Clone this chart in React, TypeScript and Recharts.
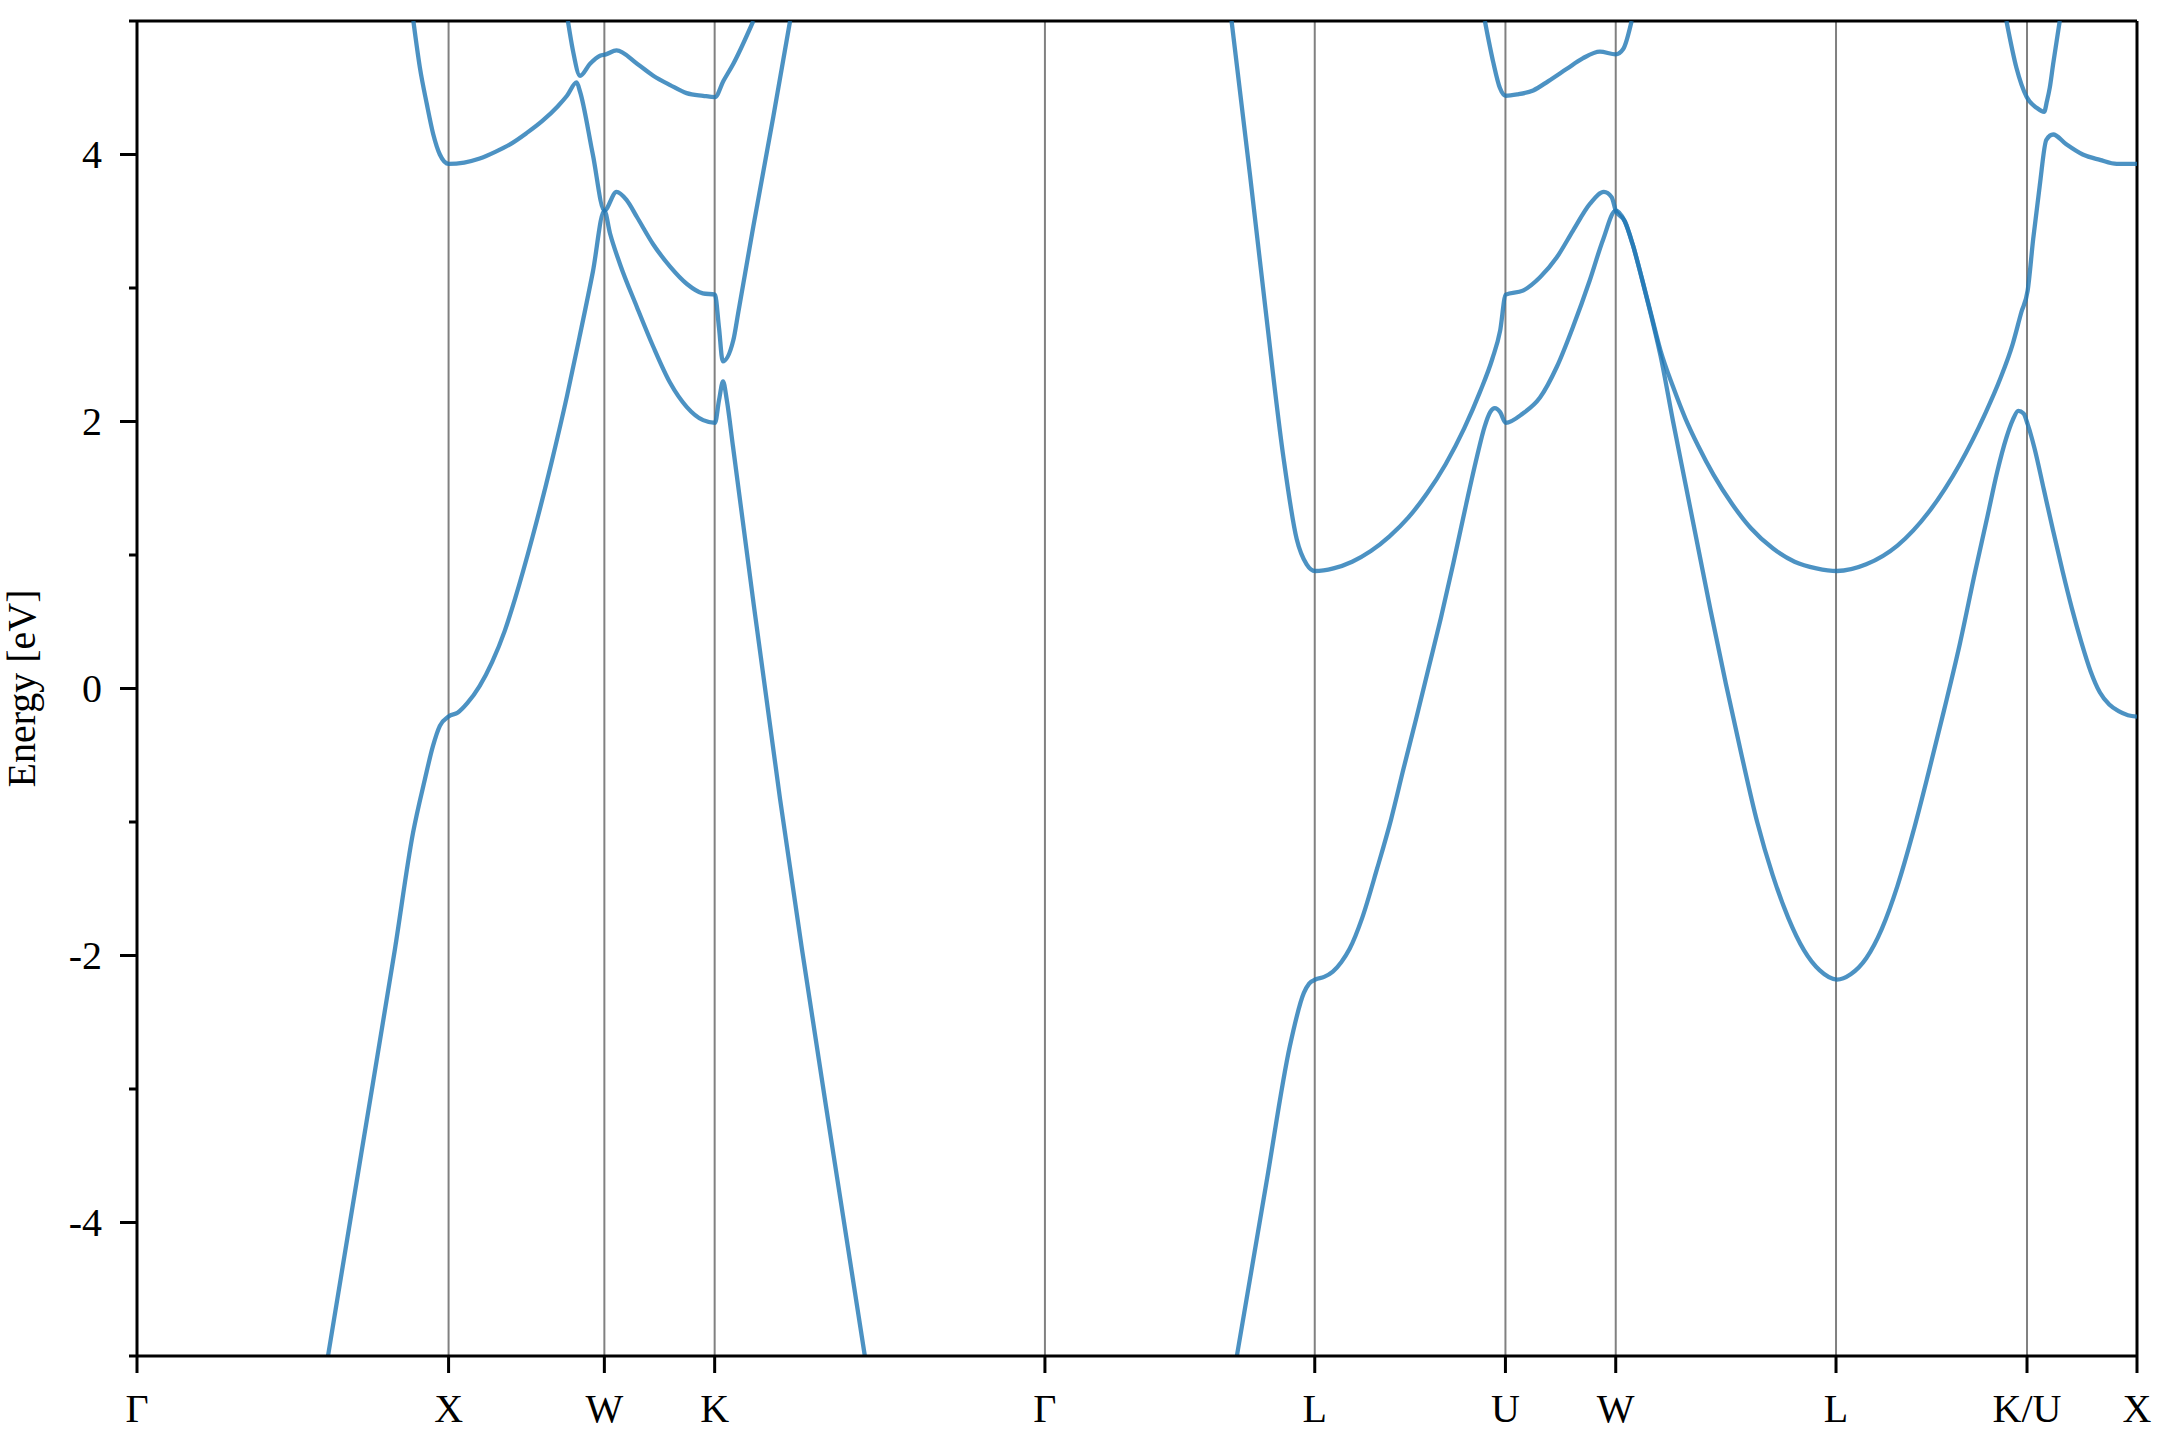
import React from "react";
import { LineChart, Line, XAxis, YAxis, ReferenceLine, Label } from "recharts";

// high-symmetry points along the path (x positions) and their labels
const kTicks = [0, 1, 1.5, 1.854, 2.914, 3.78, 4.392, 4.746, 5.453, 6.066, 6.419];
const kLabels = ["Γ", "X", "W", "K", "Γ", "L", "U", "W", "L", "K/U", "X"];
const energyTicks = [-5, -4, -3, -2, -1, 0, 1, 2, 3, 4, 5];

// [k, E] pairs, one array per visible piece of a band
const band1a = [
  [0.613, -5.0], [0.72, -3.48], [0.828, -1.95], [0.886, -1.08], [0.924, -0.68],
  [0.95, -0.43], [0.972, -0.28], [1.0, -0.21], [1.03, -0.18], [1.06, -0.11],
  [1.1, 0.02], [1.14, 0.2], [1.18, 0.43], [1.213, 0.67], [1.27, 1.14],
  [1.33, 1.69], [1.38, 2.19], [1.42, 2.63], [1.463, 3.12], [1.5, 3.58],
  [1.518, 3.41], [1.55, 3.18], [1.604, 2.86], [1.657, 2.56], [1.711, 2.29],
  [1.764, 2.11], [1.817, 2.01], [1.855, 1.99], [1.868, 2.16], [1.881, 2.3],
  [1.893, 2.16], [1.913, 1.81], [1.977, 0.67], [2.064, -0.83], [2.134, -1.95],
  [2.236, -3.5], [2.336, -5.0],
];
const band1b = [
  [3.53, -5.0], [3.625, -3.7], [3.7, -2.68], [3.745, -2.28], [3.762, -2.21],
  [3.782, -2.18], [3.81, -2.16], [3.838, -2.12], [3.865, -2.05], [3.892, -1.95],
  [3.932, -1.72], [3.98, -1.35], [4.025, -0.98], [4.065, -0.6], [4.105, -0.23],
  [4.145, 0.15], [4.185, 0.53], [4.225, 0.94], [4.265, 1.37], [4.3, 1.73],
  [4.325, 1.96], [4.343, 2.07], [4.358, 2.1], [4.375, 2.07], [4.393, 1.99],
  [4.448, 2.06], [4.503, 2.18], [4.557, 2.41], [4.609, 2.71], [4.663, 3.06],
  [4.705, 3.36], [4.746, 3.58], [4.775, 3.5], [4.8, 3.33], [4.83, 3.07],
  [4.86, 2.79], [4.89, 2.49], [4.93, 2.0], [4.97, 1.53], [5.01, 1.06],
  [5.05, 0.59], [5.1, 0.03], [5.15, -0.5], [5.2, -1.0], [5.25, -1.4],
  [5.3, -1.72], [5.35, -1.96], [5.4, -2.11], [5.456, -2.18], [5.5, -2.14],
  [5.55, -2.02], [5.6, -1.8], [5.65, -1.48], [5.7, -1.08], [5.75, -0.63],
  [5.8, -0.16], [5.85, 0.33], [5.9, 0.88], [5.94, 1.3], [5.97, 1.62],
  [6.0, 1.88], [6.02, 2.01], [6.038, 2.08], [6.055, 2.06], [6.068, 1.98],
  [6.09, 1.8], [6.12, 1.49], [6.15, 1.18], [6.18, 0.88], [6.21, 0.6],
  [6.24, 0.35], [6.27, 0.13], [6.3, -0.03], [6.33, -0.12], [6.36, -0.17],
  [6.39, -0.2], [6.419, -0.21],
];
const band2a = [
  [0.887, 5.0], [0.908, 4.65], [0.93, 4.38], [0.951, 4.15], [0.972, 4.0],
  [1.0, 3.93], [1.05, 3.94], [1.1, 3.97], [1.15, 4.02], [1.2, 4.08],
  [1.25, 4.16], [1.3, 4.25], [1.35, 4.36], [1.38, 4.44], [1.411, 4.54],
  [1.422, 4.47], [1.463, 4.0], [1.5, 3.58], [1.539, 3.72], [1.571, 3.66],
  [1.605, 3.53], [1.656, 3.33], [1.711, 3.16], [1.765, 3.03], [1.816, 2.96],
  [1.855, 2.95], [1.868, 2.7], [1.88, 2.45], [1.914, 2.61], [1.93, 2.82],
  [1.978, 3.46], [2.042, 4.28], [2.096, 5.0],
];
const band2b = [
  [3.513, 5.0], [3.572, 3.85], [3.625, 2.78], [3.679, 1.74], [3.722, 1.12],
  [3.754, 0.93], [3.781, 0.88], [3.84, 0.9], [3.9, 0.95], [3.96, 1.03],
  [4.02, 1.14], [4.08, 1.28], [4.14, 1.46], [4.2, 1.68], [4.26, 1.95],
  [4.31, 2.22], [4.35, 2.47], [4.375, 2.68], [4.393, 2.95], [4.448, 2.98],
  [4.503, 3.08], [4.557, 3.23], [4.609, 3.43], [4.663, 3.63], [4.708, 3.72],
  [4.733, 3.68], [4.746, 3.58], [4.775, 3.5], [4.8, 3.33], [4.83, 3.07],
  [4.86, 2.8], [4.89, 2.53], [4.93, 2.26], [4.97, 2.02], [5.01, 1.82],
  [5.06, 1.6], [5.12, 1.38], [5.18, 1.2], [5.25, 1.05], [5.32, 0.95],
  [5.39, 0.9], [5.456, 0.88], [5.55, 0.93], [5.65, 1.07], [5.75, 1.32],
  [5.85, 1.68], [5.93, 2.05], [5.98, 2.32], [6.02, 2.58], [6.048, 2.82],
  [6.068, 2.98], [6.086, 3.37], [6.107, 3.77], [6.128, 4.11], [6.15, 4.15],
  [6.19, 4.08], [6.245, 4.0], [6.3, 3.96], [6.354, 3.93], [6.419, 3.93],
];
const band3a = [
  [1.383, 5.0], [1.399, 4.78], [1.422, 4.59], [1.454, 4.68], [1.486, 4.74],
  [1.505, 4.75], [1.539, 4.78], [1.605, 4.68], [1.657, 4.59], [1.711, 4.52],
  [1.764, 4.46], [1.817, 4.44], [1.855, 4.43], [1.882, 4.55], [1.914, 4.68],
  [1.978, 5.0],
];
const band3b = [
  [4.326, 5.0], [4.353, 4.69], [4.374, 4.5], [4.393, 4.44], [4.43, 4.45],
  [4.481, 4.48], [4.53, 4.55], [4.588, 4.64], [4.64, 4.72], [4.695, 4.77],
  [4.746, 4.75], [4.77, 4.79], [4.797, 5.0],
];
const band3c = [
  [6.0, 5.0], [6.032, 4.65], [6.065, 4.43], [6.097, 4.35], [6.121, 4.32],
  [6.13, 4.4], [6.139, 4.5], [6.15, 4.68], [6.171, 5.0],
];

const bands = [band1a, band1b, band2a, band2b, band3a, band3b, band3c];

const FONT = "'Liberation Serif', 'Times New Roman', serif";
const Y_TICK = 17;
const Y_MARGIN = 16;
const X_TICK = 17;
const X_MARGIN = 20;

const EnergyTick = (props: any) => {
  const { x, y, payload } = props;
  const v = payload.value;
  const major = v % 2 === 0;
  const axisX = x + Y_TICK + Y_MARGIN;
  return (
    <g>
      <line
        x1={axisX - (major ? Y_TICK : 8)}
        x2={axisX}
        y1={y}
        y2={y}
        stroke="#000"
        strokeWidth={3}
      />
      {major && (
        <text
          x={axisX - 35}
          y={y}
          dy={13.5}
          textAnchor="end"
          fontFamily={FONT}
          fontSize={40}
          fill="#000"
        >
          {v}
        </text>
      )}
    </g>
  );
};

const PathTick = (props: any) => {
  const { x, y, payload } = props;
  const axisY = y - X_TICK - X_MARGIN;
  let i = 0;
  kTicks.forEach((t, j) => {
    if (Math.abs(t - payload.value) < Math.abs(kTicks[i] - payload.value)) i = j;
  });
  return (
    <g>
      <line x1={x} x2={x} y1={axisY} y2={axisY + X_TICK} stroke="#000" strokeWidth={3} />
      <text
        x={x}
        y={axisY + 66}
        textAnchor="middle"
        fontFamily={FONT}
        fontSize={40}
        fill="#000"
      >
        {kLabels[i]}
      </text>
    </g>
  );
};

export default function App() {
  return (
    <div
      style={{
        position: "absolute",
        left: 0,
        top: 0,
        width: 2160,
        height: 1440,
        background: "#fff",
      }}
    >
      <LineChart
        width={2160}
        height={1440}
        margin={{ top: 21, right: 23, bottom: 0, left: 0 }}
      >
        <XAxis
          type="number"
          dataKey="k"
          domain={[0, 6.419]}
          ticks={kTicks}
          interval={0}
          allowDataOverflow
          height={84}
          tickSize={X_TICK}
          tickMargin={X_MARGIN}
          tickLine={false}
          tick={<PathTick />}
          axisLine={{ stroke: "#000", strokeWidth: 3 }}
        />
        <YAxis
          type="number"
          domain={[-5, 5]}
          ticks={energyTicks}
          interval={0}
          allowDataOverflow
          width={137}
          tickSize={Y_TICK}
          tickMargin={Y_MARGIN}
          tickLine={false}
          tick={<EnergyTick />}
          axisLine={{ stroke: "#000", strokeWidth: 3 }}
        >
          <Label
            content={({ viewBox }: any) => {
              const cx = viewBox.x + 35;
              const cy = viewBox.y + viewBox.height / 2;
              return (
                <text
                  x={cx}
                  y={cy}
                  transform={`rotate(-90, ${cx}, ${cy})`}
                  textAnchor="middle"
                  fontFamily={FONT}
                  fontSize={40}
                  fill="#000"
                >
                  Energy [eV]
                </text>
              );
            }}
          />
        </YAxis>
        {kTicks.slice(1, -1).map((t) => (
          <ReferenceLine key={t} x={t} stroke="#808080" strokeWidth={2} />
        ))}
        <ReferenceLine y={5} stroke="#000" strokeWidth={3} />
        <ReferenceLine x={6.419} stroke="#000" strokeWidth={3} />
        {bands.map((b, i) => (
          <Line
            key={i}
            data={b.map(([k, e]) => ({ k, e }))}
            dataKey="e"
            type="monotone"
            stroke="#1f77b4"
            strokeOpacity={0.8}
            strokeWidth={4.3}
            dot={false}
            activeDot={false}
            isAnimationActive={false}
          />
        ))}
      </LineChart>
    </div>
  );
}
